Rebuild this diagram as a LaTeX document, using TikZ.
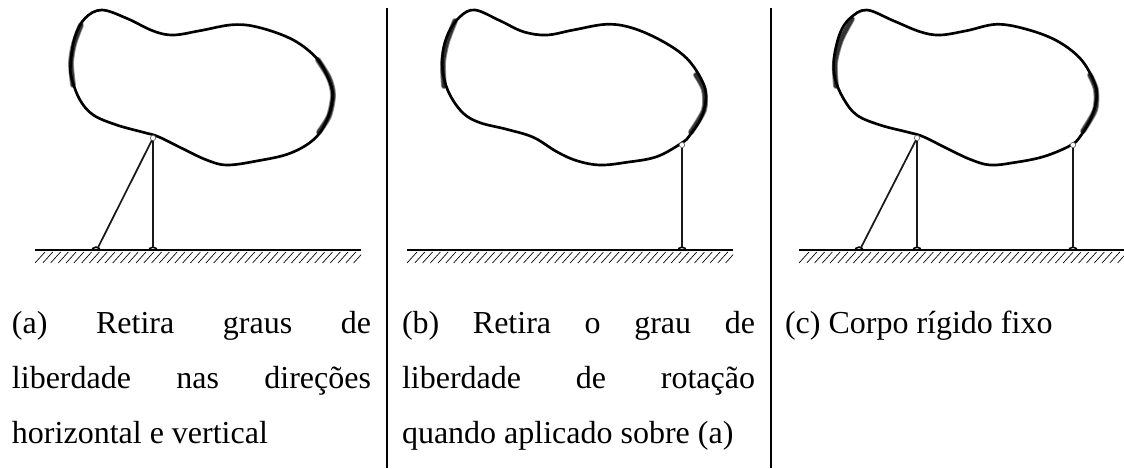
\documentclass[tikz,border=0pt]{standalone}
\usepackage{fontspec}
\setmainfont{Liberation Serif}
\tikzset{
  x=0.75pt,y=-0.75pt,
  blobline/.style={line width=2pt,line join=round},
  smear/.style={line width=4.4pt,draw=black!45,line cap=round},
  smearin/.style={line width=3.1pt,draw=black!80,line cap=round},
  bar/.style={line width=1.3pt,draw=black!90},
  groundline/.style={line width=1.6pt},
  hatchline/.style={line width=0.5pt},
  divider/.style={line width=1.4pt},
  hinge/.style={circle,draw=black,line width=1.2pt,fill=white,minimum size=6.6pt,inner sep=0pt,outer sep=0pt},
  tophinge/.style={circle,draw=black!60,line width=0.5pt,fill=white,minimum size=4pt,inner sep=0pt,outer sep=0pt},
  caption/.style={anchor=north west,inner sep=0pt,outer sep=0pt,align=left,font=\fontsize{24pt}{41.25pt}\selectfont},
}
\newcommand{\groundhatch}[1]{
  \begin{scope}
  \clip (#1+35,245) rectangle (#1+361,264);
  \fill[white] (#1+30,250) rectangle (#1+365,264);
  \foreach \k in {0,...,41}{\draw[hatchline] (#1+35+\k*7.77,263) -- (#1+45+\k*7.77,252);}
  \end{scope}
  \draw[groundline] (#1+35,250) -- (#1+361,250);
}
\newcommand{\smearit}[1]{\draw[smear] plot[smooth] coordinates {#1};\draw[smearin] plot[smooth] coordinates {#1};}
\newcommand{\caplineA}[1]{\makebox[269.25pt][s]{#1}}
\newcommand{\caplineB}[1]{\makebox[264.75pt][s]{#1}}
\begin{document}
\begin{tikzpicture}
\useasboundingbox (0,0) rectangle (1124,468);
\fill[white] (0,0) rectangle (1124,468);
\coordinate (d1t) at (387,8); \coordinate (d1b) at (387,468);
\coordinate (d2t) at (771,8); \coordinate (d2b) at (771,468);
\draw[divider] (d1t) -- (d1b);
\draw[divider] (d2t) -- (d2b);
% panel a
\smearit{(81,25) (74,44) (71,63) (73,85)}
\smearit{(318,60) (329,78) (333,95) (329,116) (319,132)}
\draw[blobline] plot[smooth cycle,tension=0.6] coordinates {(101.7,10) (126.7,18.3) (153.3,31) (173.3,35) (200,30.7) (233.3,24.7) (260,27.7) (293.3,40) (316.7,58.3) (328.3,78.3) (332.7,95) (328.3,116.7) (315,138.3) (290,153.3) (256.7,161) (226.7,165) (206.7,160) (183.3,149) (158.3,136.7) (143.3,132.3) (116.7,125) (93.3,115) (80,100) (71.7,78.3) (70.7,63.3) (75,36.7) (85,18.3)};
\node[hinge] (a1) at (96,251.5) {};
\node[hinge] (a2) at (153,251.5) {};
\groundhatch{0}
\node[tophinge] (at) at (153,138) {};
\draw[bar] (a1) -- (at);
\draw[bar] (a2) -- (at);
% panel b
\smearit{(455,21) (447,42) (443,63) (444,86)}
\smearit{(696,75) (704,90) (704,110) (691,132)}
\draw[blobline] plot[smooth cycle,tension=0.6] coordinates {(475,10) (500,20.7) (523.3,31.7) (546.7,35) (573.3,30) (606.7,24.3) (633.3,28.3) (663.3,41.7) (686.7,58.3) (701.7,80) (706,96.7) (701.7,116.7) (690,135) (681.7,143) (656.7,156.7) (626.7,162.3) (600,165) (576.7,160.7) (556.7,151.7) (533.3,137.3) (506.7,129.3) (480,122.7) (463.3,113.3) (450,95) (443.3,75) (442.7,53.3) (448.3,33.3) (460,16.7)};
\node[hinge] (b1) at (682,251.5) {};
\groundhatch{372}
\node[tophinge] (bt) at (682,145) {};
\draw[bar] (b1) -- (bt);
% panel c
\smearit{(852,19) (841,40) (835,63) (836,86)}
\smearit{(1090,75) (1096,90) (1095,110) (1083,131)}
\draw[blobline] plot[smooth cycle,tension=0.6] coordinates {(866.7,10) (893.3,20.7) (920,31.7) (940,35) (966.7,30.7) (996.7,24.3) (1026.7,29.3) (1056.7,40.7) (1080,58.3) (1093.3,80) (1096.7,96.7) (1091.7,116.7) (1080,136.7) (1070,145.7) (1043.3,156.7) (1013.3,162.7) (990,165) (970,159.3) (946.7,148.3) (923.3,136.7) (908.3,132.3) (880,125) (856.7,115) (843.3,98.3) (835,78.3) (834,58.3) (840,33.3) (850,18.3)};
\node[hinge] (c1) at (859,251.5) {};
\node[hinge] (c2) at (917,251.5) {};
\node[hinge] (c3) at (1073,251.5) {};
\groundhatch{764}
\node[tophinge] (ct) at (917,138) {};
\node[tophinge] (cr) at (1073,145) {};
\draw[bar] (c1) -- (ct);
\draw[bar] (c2) -- (ct);
\draw[bar] (c3) -- (cr);
% captions
\node[caption] (ca) at (12,311) {\caplineA{(a) Retira graus de}\\\caplineA{liberdade nas direções}\\horizontal e vertical};
\node[caption] (cb) at (402,311) {\caplineB{(b) Retira o grau de}\\\caplineB{liberdade de rotação}\\quando aplicado sobre (a)};
\node[caption] (cc) at (785,311) {(c) Corpo rígido fixo};
\end{tikzpicture}
\end{document}
